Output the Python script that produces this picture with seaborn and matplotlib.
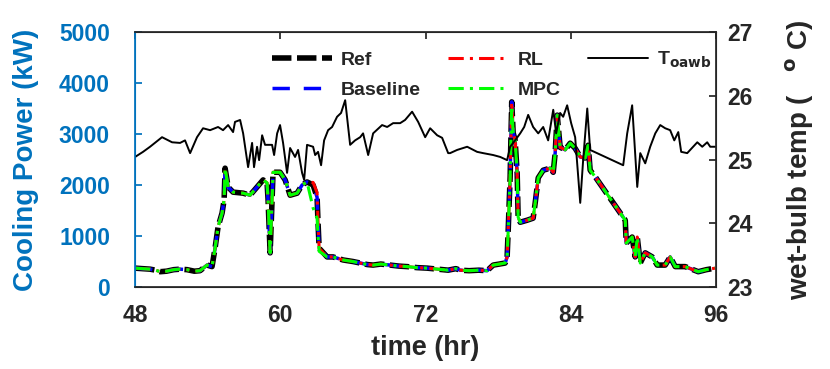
import matplotlib
matplotlib.use("Agg")
import matplotlib.pyplot as plt
import seaborn as sns
from matplotlib.lines import Line2D

# outdoor wet-bulb temperature (degC) over time (hr)
t_time = [48.0, 48.66, 49.24, 50.23, 51.06, 51.72, 52.13, 52.55, 53.12, 53.62,
          54.2, 54.86, 55.27, 55.69, 56.1, 56.26, 56.68, 56.93, 57.34, 57.67,
          57.83, 58.08, 58.25, 58.5, 58.74, 59.32, 59.49, 59.74, 59.98, 60.23,
          60.56, 60.81, 61.22, 61.47, 61.8, 61.97, 62.21, 62.71, 62.88, 63.12,
          63.37, 63.62, 63.95, 64.28, 64.69, 65.02, 65.36, 65.77, 66.18, 66.6,
          66.84, 67.26, 67.67, 68.41, 68.83, 69.32, 69.9, 70.31, 70.89, 71.39,
          71.97, 72.38, 72.96, 73.37, 73.87, 74.03, 74.61, 75.44, 76.26, 76.76,
          77.59, 78.17, 78.74, 78.99, 79.4, 79.82, 80.15, 80.48, 80.89, 81.31,
          81.72, 82.13, 82.55, 82.79, 83.12, 83.37, 83.7, 84.03, 84.36, 84.78,
          85.02, 85.36, 85.6, 88.33, 88.66, 89.07, 89.49, 89.74, 90.15, 90.56,
          90.98, 91.39, 91.8, 92.21, 92.55, 92.88, 93.12, 93.62, 94.45, 94.86,
          95.27, 95.52, 95.93]
t_oawb = [25.04, 25.12, 25.2, 25.35, 25.27, 25.26, 25.3, 25.1, 25.35, 25.49,
          25.46, 25.51, 25.46, 25.54, 25.43, 25.59, 25.62, 25.41, 24.88, 25.26,
          24.88, 25.2, 24.99, 25.38, 25.23, 25.23, 25.07, 25.41, 25.54, 25.26,
          24.79, 25.18, 25.04, 25.15, 24.79, 24.68, 25.23, 25.2, 25.07, 25.12,
          24.91, 25.3, 25.46, 25.51, 25.67, 25.73, 25.93, 25.23, 25.3, 25.35,
          25.41, 25.07, 25.41, 25.54, 25.51, 25.57, 25.57, 25.62, 25.75, 25.59,
          25.35, 25.49, 25.38, 25.34, 25.1, 25.1, 25.15, 25.2, 25.12, 25.1,
          25.07, 25.04, 24.99, 25.2, 25.3, 25.41, 25.51, 25.7, 25.51, 25.41,
          25.51, 25.3, 25.78, 25.41, 25.73, 25.67, 25.85, 25.57, 25.35, 24.32,
          24.99, 25.8, 25.15, 24.91, 25.41, 25.85, 24.57, 25.1, 24.94, 25.2,
          25.41, 25.54, 25.49, 25.46, 25.3, 25.43, 25.12, 25.1, 25.27, 25.2,
          25.27, 25.2, 25.2]

# cooling power (kW) of each controller
p_time = [48.0, 48.6, 49.24, 49.7, 50.07, 50.6, 51.2, 51.72, 52.3, 52.9,
          53.37, 53.95, 54.36, 54.61, 54.86, 55.19, 55.36, 55.44, 55.69, 56.1,
          56.93, 57.5, 58.08, 58.58, 58.91, 58.99, 59.16, 59.32, 59.4, 59.98,
          60.4, 60.81, 61.39, 61.8, 62.21, 62.71, 63.04, 63.12, 63.21, 63.87,
          64.36, 65.19, 66.0, 66.6, 67.2, 67.67, 68.3, 69.07, 69.8, 70.48,
          71.3, 72.13, 73.0, 73.87, 74.5, 74.86, 75.6, 76.4, 77.09, 77.59,
          78.1, 78.58, 78.74, 78.83, 78.91, 78.99, 79.05, 79.12, 79.24, 79.4,
          79.57, 79.65, 79.82, 80.4, 80.89, 81.06, 81.31, 81.72, 82.3, 82.55,
          82.71, 82.88, 83.12, 83.54, 83.95, 84.36, 84.78, 85.19, 85.44, 85.6,
          86.02, 88.5, 88.58, 89.07, 89.32, 89.49, 89.74, 90.15, 90.73, 91.14,
          91.8, 92.21, 92.63, 93.45, 94.53, 95.2, 95.93]
ref_kw = [370, 360, 350, 330, 300, 310, 340, 350, 340, 310,
          320, 430, 400, 760, 1180, 1450, 1710, 2330, 1960, 1860,
          1840, 1800, 1960, 2100, 2040, 1710, 670, 1710, 2250, 2250,
          2100, 1800, 1840, 2000, 2060, 2000, 1760, 1250, 760, 590,
          590, 530, 500, 470, 440, 430, 450, 430, 410, 400,
          380, 370, 350, 330, 360, 330, 320, 330, 320, 430,
          450, 470, 590, 1120, 1650, 2160, 2880, 3630, 3020, 2880,
          2230, 1370, 1270, 1310, 1350, 1650, 2140, 2290, 2330, 2250,
          2630, 3370, 2740, 2690, 2820, 2720, 2550, 2530, 2780, 2290,
          2160, 1310, 860, 980, 590, 980, 470, 670, 590, 430,
          430, 590, 400, 400, 300, 340, 370]
baseline_kw = [370, 360, 350, 330, 300, 310, 340, 350, 340, 310,
               320, 430, 400, 760, 1180, 1450, 1710, 2330, 1960, 1860,
               1840, 1800, 1960, 2100, 2040, 1710, 670, 1710, 2250, 2250,
               2100, 1800, 1840, 2000, 2060, 2000, 1760, 1250, 760, 590,
               590, 530, 500, 470, 440, 430, 450, 430, 410, 400,
               380, 370, 350, 330, 360, 330, 320, 330, 320, 430,
               450, 470, 590, 1120, 1650, 2160, 2880, 3630, 3020, 2880,
               2230, 1370, 1270, 1310, 1350, 1650, 2140, 2290, 2330, 2250,
               2630, 3370, 2740, 2690, 2820, 2720, 2550, 2530, 2780, 2290,
               2160, 1310, 860, 980, 590, 980, 470, 670, 590, 430,
               430, 590, 400, 400, 300, 340, 370]
rl_kw = [370, 360, 350, 330, 300, 310, 340, 350, 340, 310,
         320, 430, 400, 760, 1180, 1450, 1710, 2330, 1960, 1860,
         1840, 1800, 1960, 2100, 2040, 1710, 670, 1710, 2250, 2250,
         2100, 1800, 1840, 2000, 2060, 2050, 1850, 1250, 760, 590,
         590, 530, 500, 470, 440, 430, 450, 430, 410, 400,
         380, 370, 350, 330, 360, 330, 320, 330, 320, 430,
         450, 470, 590, 1120, 1650, 2160, 2880, 3630, 3020, 2880,
         2230, 1370, 1270, 1310, 1350, 1650, 2140, 2290, 2330, 2250,
         2630, 3370, 2740, 2690, 2820, 2720, 2550, 2530, 2780, 2290,
         2160, 1310, 860, 980, 590, 980, 470, 670, 590, 430,
         430, 590, 400, 400, 300, 340, 370]
mpc_kw = [370, 360, 350, 330, 300, 310, 340, 350, 340, 310,
          320, 430, 400, 760, 1180, 1450, 1710, 2330, 1960, 1860,
          1840, 1800, 1960, 2100, 2040, 1710, 670, 1710, 2250, 2250,
          2100, 1800, 1840, 2000, 2060, 1550, 1350, 1000, 700, 590,
          590, 530, 500, 470, 440, 430, 450, 430, 410, 400,
          380, 370, 350, 330, 360, 330, 320, 330, 320, 430,
          450, 470, 590, 1120, 1650, 2160, 2880, 3550, 3020, 2880,
          2230, 1370, 1270, 1310, 1350, 1650, 2140, 2290, 2330, 2250,
          2630, 3370, 2740, 2690, 2820, 2720, 2550, 2530, 2780, 2290,
          2160, 1310, 860, 980, 590, 980, 470, 670, 590, 430,
          430, 590, 400, 400, 300, 340, 370]

x_ticks = [48, 60, 72, 84, 96]
kw_ticks = [0, 1000, 2000, 3000, 4000, 5000]
temp_ticks = [23, 24, 25, 26, 27]

sns.set_theme(style="white")
plt.rcParams['font.family'] = ['Liberation Sans', 'DejaVu Sans']
plt.rcParams['font.weight'] = 'bold'
plt.rcParams['axes.labelweight'] = 'bold'

blue = (0.0, 0.447, 0.741)
dark = (0.15, 0.15, 0.15)

fig = plt.figure(figsize=(8.3, 3.69), dpi=100)
ax = fig.add_axes([0.1627, 0.2222, 0.7, 0.6911])

sns.lineplot(x=p_time, y=ref_kw, ax=ax, color='black', lw=4,
             linestyle=(0, (3.5, 1)), estimator=None)
sns.lineplot(x=p_time, y=baseline_kw, ax=ax, color='blue', lw=2.5,
             linestyle=(0, (5, 4)), estimator=None)
sns.lineplot(x=p_time, y=rl_kw, ax=ax, color='red', lw=2.2,
             linestyle=(0, (5, 2, 1, 2)), estimator=None)
sns.lineplot(x=p_time, y=mpc_kw, ax=ax, color='lime', lw=2.2,
             linestyle=(0, (5, 2, 1, 2)), estimator=None)

ax.set_xlim(48, 96)
ax.set_ylim(0, 5000)
ax.set_xticks(x_ticks)
ax.set_yticks(kw_ticks)
ax.set_xlabel('time (hr)', fontsize=19.5, color=dark, labelpad=6)
ax.set_ylabel('Cooling Power (kW)', fontsize=20, color=blue, labelpad=14)
ax.tick_params(axis='x', direction='in', length=5, top=True, labelsize=16.5,
               colors=dark, pad=12)
ax.tick_params(axis='y', direction='in', length=5, labelsize=16.5,
               colors=blue, pad=18)
for s in ax.spines.values():
    s.set_color(dark)
    s.set_linewidth(0.8)
ax.spines['left'].set_color(blue)

ax2 = ax.twinx()
sns.lineplot(x=t_time, y=t_oawb, ax=ax2, color='black', lw=1.4, estimator=None)
ax2.set_ylim(23, 27)
ax2.set_yticks(temp_ticks)
ax2.set_ylabel('wet-bulb temp (   $^\\mathbf{o}$ C)', fontsize=20, color=dark,
               labelpad=22)
ax2.tick_params(axis='y', direction='in', length=5, labelsize=16.5,
                colors=dark, pad=8)
ax2.spines['left'].set_color(blue)

handles = [
    Line2D([], [], color='black', lw=4, linestyle=(0, (3.5, 1))),
    Line2D([], [], color='blue', lw=2.5, linestyle=(0, (5, 4))),
    Line2D([], [], color='red', lw=2.2, linestyle=(0, (5, 2, 1, 2))),
    Line2D([], [], color='lime', lw=2.2, linestyle=(0, (5, 2, 1, 2))),
    Line2D([], [], color='black', lw=1.4),
]
labels = ['Ref', 'Baseline', 'RL', 'MPC', 'T$_{\\mathbf{oawb}}$']
ax2.legend(handles, labels, ncol=3, loc='upper left',
           bbox_to_anchor=(0.236, 0.93), frameon=False, fontsize=14,
           handlelength=3.1, handletextpad=0.45, columnspacing=1.4,
           borderpad=0, borderaxespad=0, labelspacing=0.65)

fig.savefig('out.png', dpi=100)
